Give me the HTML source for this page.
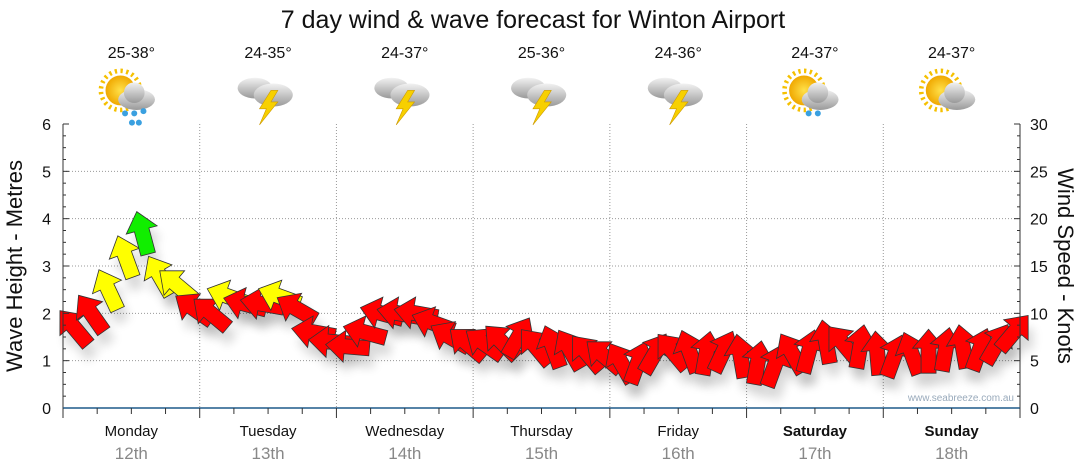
<!DOCTYPE html>
<html><head><meta charset="utf-8"><style>
body{margin:0;background:#fff;}
svg{display:block;font-family:"Liberation Sans",sans-serif;}
</style></head><body>
<svg id="c" width="1080" height="475" viewBox="0 0 1080 475">
<defs>
<filter id="sh" x="-50%" y="-50%" width="200%" height="200%"><feGaussianBlur stdDeviation="5"/></filter>
<radialGradient id="sun" cx="50%" cy="50%" r="50%"><stop offset="0" stop-color="#ffe14a"/><stop offset="1" stop-color="#f0a800"/></radialGradient>
<linearGradient id="cl" x1="0" y1="0" x2="0" y2="1"><stop offset="0" stop-color="#f2f2f2"/><stop offset="1" stop-color="#9a9a9a"/></linearGradient>
</defs>
<text x="533" y="28" text-anchor="middle" font-size="25" fill="#111">7 day wind &amp; wave forecast for Winton Airport</text>
<g id="grid"></g><g id="icons"></g><g id="marks"></g><g id="axes"></g>
<text transform="translate(22,266) rotate(-90)" text-anchor="middle" font-size="22" fill="#111">Wave Height - Metres</text>
<text transform="translate(1058,266) rotate(90)" text-anchor="middle" font-size="22" fill="#111">Wind Speed - Knots</text>
<text x="1014" y="401" text-anchor="end" font-size="10" fill="#9ab">www.seabreeze.com.au</text>
</svg>
<script>
const days=["Monday","Tuesday","Wednesday","Thursday","Friday","Saturday","Sunday"];
const dates=["12th","13th","14th","15th","16th","17th","18th"];
const temps=["25-38°","24-35°","24-37°","25-36°","24-36°","24-37°","24-37°"];
const icons=["sunrain","storm","storm","storm","storm","suncloudrain","suncloud"];
const leftTicks=[0,1,2,3,4,5,6];
const rightTicks=[0,5,10,15,20,25,30];
// wind speed in knots every 3 hours
const windKn=[8.5,10,12.5,16,18.5,14,13,10.5,10,11.8,11,11,11.8,10.5,8,7,6.5,8,10,10,10,9,7.5,6.8,6.8,7,7.5,6.5,6.5,6.2,5.8,5.5,4.8,4.8,5.8,6,6,5.8,6,5.5,4.8,4.5,5.8,6,7,6.8,6.5,5.8,5.5,5.8,6,6.2,6.5,6.2,6.8,8];
// direction the arrow points, degrees clockwise from up
const windDir=[-40,-35,-25,-20,-15,-30,-50,-55,-50,-70,-75,-80,-70,-60,-80,-85,-85,-75,-75,-80,-80,-70,-60,-50,-55,-45,30,-40,-20,-30,-40,-50,-30,20,30,-40,-20,10,25,-10,10,20,-30,15,-10,-40,10,-5,20,-20,0,10,-10,20,30,40];
const NS="http://www.w3.org/2000/svg";
const X0=63,X1=1020,Y0=408,Y1=124,dayW=(X1-X0)/7;
const ym=v=>Y0-(v/6)*(Y0-Y1);
const yk=v=>Y0-(v/30)*(Y0-Y1);
const xt=i=>X0+(i+1)*(X1-X0)/56-6;
function el(t,a,p){const e=document.createElementNS(NS,t);for(const k in a)e.setAttribute(k,a[k]);p.appendChild(e);return e;}
const g=document.getElementById('grid'),ax=document.getElementById('axes'),mk=document.getElementById('marks'),ic=document.getElementById('icons');
leftTicks.forEach((v,i)=>{
  if(v>0&&v<6){const l=el('line',{x1:X0,x2:X1,y1:ym(v),y2:ym(v),stroke:'#999','stroke-dasharray':'1,2'},g);
  
  }
  const t=el('text',{x:X0-12,y:ym(v)+6,'text-anchor':'end','font-size':16,fill:'#111'},ax);t.textContent=v;
  
  
});
rightTicks.forEach(v=>{
  const t=el('text',{x:X1+10,y:yk(v)+6,'font-size':16,fill:'#111'},ax);t.textContent=v;
  
  
});
for(let i=0;i<=24;i++){const y=Y0-i*(Y0-Y1)/24,w=i%4==0?6:3;
  el('line',{x1:X0,x2:X0+w,y1:y,y2:y,stroke:'#333'},ax);el('line',{x1:X1-w,x2:X1,y1:y,y2:y,stroke:'#333'},ax);}
el('line',{x1:X0,x2:X0,y1:Y1,y2:Y0,stroke:'#333'},ax);el('line',{x1:X1,x2:X1,y1:Y1,y2:Y0,stroke:'#333'},ax);
el('line',{x1:X0,x2:X1,y1:Y0,y2:Y0,stroke:'#1f5a8a','stroke-width':1.5},ax);
for(let i=0;i<=28;i++){const x=X0+i*dayW/4;el('line',{x1:x,x2:x,y1:Y0,y2:Y0+(i%4==0?10:6),stroke:'#333'},ax);}
days.forEach((d,i)=>{
  const cx=X0+(i+0.5)*dayW;
  if(i>0){const l=el('line',{x1:X0+i*dayW,x2:X0+i*dayW,y1:Y1,y2:Y0,stroke:'#999','stroke-dasharray':'1,2'},g);
  
  }
  const t=el('text',{x:cx,y:436,'text-anchor':'middle','font-size':15,fill:'#111','font-weight':i>=5?'bold':'normal'},ax);t.textContent=d;
  
  
  const t2=el('text',{x:cx,y:459,'text-anchor':'middle','font-size':17,fill:'#888'},ax);t2.textContent=dates[i];
  
  
  const t3=el('text',{x:cx,y:58,'text-anchor':'middle','font-size':16,fill:'#111'},ic);t3.textContent=temps[i];
  
  
  const gi=el('g',{transform:`translate(${cx-4},95) scale(1.15)`},ic);
  
  
  const k=icons[i];
  if(k!="storm"){el('circle',{cx:-6,cy:-4,r:17,fill:'none',stroke:'#f5c000','stroke-width':4,'stroke-dasharray':'2,3'},gi);el('circle',{cx:-6,cy:-4,r:13,fill:'url(#sun)'},gi);
    el('ellipse',{cx:8,cy:4,rx:16,ry:9,fill:'url(#cl)'},gi);el('circle',{cx:6,cy:-2,r:9,fill:'url(#cl)'},gi);}
  else{el('ellipse',{cx:-8,cy:-6,rx:15,ry:9,fill:'url(#cl)'},gi);el('ellipse',{cx:8,cy:0,rx:17,ry:10,fill:'url(#cl)'},gi);
    el('polygon',{points:'6,-4 -4,12 2,12 -4,26 12,6 6,6 12,-4',fill:'#f7d000',stroke:'#c90','stroke-width':0.5},gi);}
  if(k=="sunrain"||k=="suncloudrain"){[[-2,16],[6,16],[14,14],[4,24],[10,24]].slice(0,k=="sunrain"?5:2).forEach(p=>el('circle',{cx:p[0],cy:p[1],r:2.6,fill:'#3aa0e0'},gi));}
});
const ARROW='M0,-22 L16,-3 L7.5,-3 L7.5,22 L-7.5,22 L-7.5,-3 L-16,-3 Z';
windKn.forEach((v,i)=>{
  const x=xt(i),y=yk(v);
  el('path',{d:ARROW,transform:`translate(${x+5},${y+12}) rotate(${windDir[i]})`,fill:'#000',opacity:0.15,filter:'url(#sh)'},mk);
});
windKn.forEach((v,i)=>{
  const x=xt(i),y=yk(v);
  const col=v>=18?'#11ee00':v>=11.5?'#ffff00':'#ff0000';
  const a=el('path',{d:ARROW,transform:`translate(${x},${y}) rotate(${windDir[i]})`,fill:col,stroke:'#333','stroke-width':0.8},mk);
  
  
});
</script>
</body></html>
